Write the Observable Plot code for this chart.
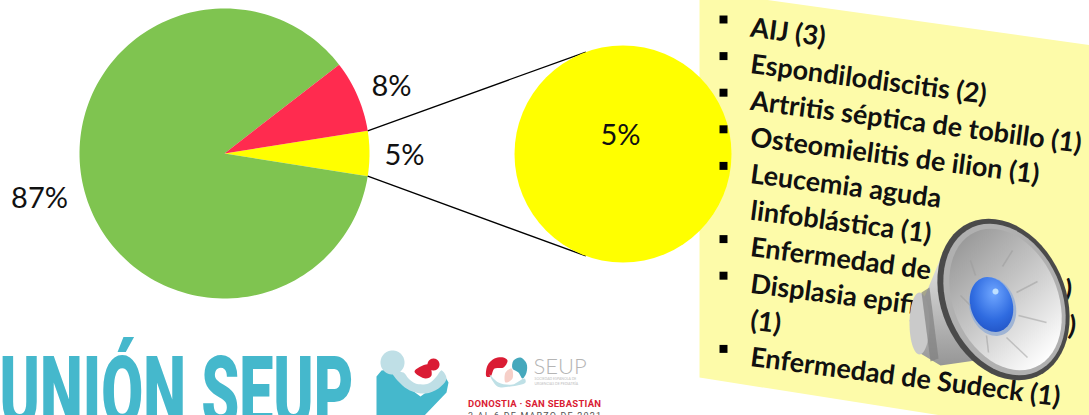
<!DOCTYPE html>
<html><head><meta charset="utf-8">
<style>html,body{margin:0;padding:0;background:#fff;overflow:hidden}svg{display:block}</style>
<script src="https://cdn.jsdelivr.net/npm/d3@7"></script>
<script src="https://cdn.jsdelivr.net/npm/@observablehq/plot@0.6"></script>
</head><body><script>
// ---- data ----
const sliceValues = [5, 87, 8];
const sliceColors = ["#FFFF00", "#7FC450", "#FF2B4F"];
const detailValue = [5];
const listLines = ["AIJ (3)", "Espondilodiscitis (2)", "Artritis séptica de tobillo (1)", "Osteomielitis de ilion (1)", "Leucemia aguda", "linfoblástica (1)", "Enfermedad de", "Displasia epifi", "(1)", "Enfermedad de Sudeck (1)"];
const listBullets = [1, 1, 1, 1, 1, 0, 1, 1, 0, 1];

// ---- layout ----
const W = 1089, H = 415;
const pie = {x: 224, y: 153, r: 145};
const zoomC = {x: 622.5, y: 153.5, r: 108.5};
const rad = Math.PI / 180;
const total = d3.sum(sliceValues);
let a0 = -sliceValues[0] / total * 180;
const slicePts = sliceValues.flatMap((v, i) => {
  const a1 = a0 + v / total * 360;
  const n = Math.ceil((a1 - a0) / 2);
  const arc = d3.range(n + 1).map(k => a0 + (a1 - a0) * k / n);
  a0 = a1;
  return [{a: null}, ...arc.map(a => ({a}))].map(p => ({
    i,
    x: p.a === null ? pie.x : pie.x + pie.r * Math.cos(p.a * rad),
    y: p.a === null ? pie.y : pie.y + pie.r * Math.sin(p.a * rad)
  }));
});
const half = sliceValues[0] / total * 180;
const connectorAngle = 110;
const connectors = [-1, 1].map(s => ({
  x1: pie.x + pie.r * Math.cos(half * rad), y1: pie.y + s * pie.r * Math.sin(half * rad),
  x2: zoomC.x + zoomC.r * Math.cos(connectorAngle * rad), y2: zoomC.y + s * zoomC.r * Math.sin(connectorAngle * rad)
}));
const listStart = {x: 749, y: 36, step: 36.6, bulletX: 723, bulletDy: -17, rot: 7.4};
const rows = listLines.map((t, i) => ({t, b: listBullets[i], x: listStart.x, y: listStart.y + i * listStart.step}));

// ---- decoration helpers ----
const poly = (pts, fill, curve = "linear", extra = {}) =>
  Plot.line(pts, {x: d => d[0], y: d => d[1], fill, stroke: "none", curve, ...extra});
const ellipse = (cx, cy, a, b, deg, fill, extra = {}) => {
  const t = deg * rad;
  const pts = d3.range(0, 360, 6).map(u => {
    const c = a * Math.cos(u * rad), s = b * Math.sin(u * rad);
    return [cx + c * Math.cos(t) - s * Math.sin(t), cy + c * Math.sin(t) + s * Math.cos(t)];
  });
  return poly(pts, fill, "linear-closed", extra);
};
const defs = () => d3.create("svg:defs").html(`
  <linearGradient id="coneG" x1="0.15" y1="0.05" x2="0.85" y2="0.95">
    <stop offset="0" stop-color="#9a9a9a"/><stop offset="0.55" stop-color="#cfcfcf"/><stop offset="1" stop-color="#ffffff"/>
  </linearGradient>
  <linearGradient id="backG" x1="0.5" y1="0" x2="0.5" y2="1">
    <stop offset="0" stop-color="#e0e0e0"/><stop offset="0.5" stop-color="#bcbcbc"/><stop offset="1" stop-color="#969696"/>
  </linearGradient>
  <radialGradient id="blueG" cx="0.55" cy="0.3" r="0.8">
    <stop offset="0" stop-color="#6fa6ff"/><stop offset="0.6" stop-color="#2f6be0"/><stop offset="1" stop-color="#1f4fc0"/>
  </radialGradient>`).node();

const speaker = [
  poly([[940,258],[925,294],[909,320],[920,353],[940,365],[975,360]], "url(#backG)"),
  ellipse(919, 323, 10, 31, 0, "#cacaca"),
  poly([[921,292],[929,287],[938,358],[930,361]], "#808080", "linear-closed", {fillOpacity: 0.7}),
  ellipse(1003, 299, 84, 62, 66, "#4a4a4a"),
  ellipse(1004, 299, 79, 57, 66, "#b0b0b0"),
  ellipse(1005, 299, 74, 52, 66, "url(#coneG)"),
  ellipse(992, 306, 30, 23, 72, "#9fb4d4"),
  ellipse(991, 304, 28, 21, 72, "url(#blueG)"),
  ellipse(995, 291, 3, 3, 0, "#bfe0ff"),
  Plot.link([[1002,266,1012,250],[1016,292,1037,281],[1018,315,1046,322],[1006,337,1027,357],[986,335,988,352],[970,305,960,295],[975,275,970,260]],
    {x1: d => d[0], y1: d => d[1], x2: d => d[2], y2: d => d[3], stroke: "#9a9a9a", strokeWidth: 1.5, strokeOpacity: 0.5})
];
const teal = "#45B8CC", redLogo = "#DA1C34";
const logo = [
  Plot.text(["UNIÓN SEUP"], {className: "logo-main", x: -1, y: 425, text: d => d, textAnchor: "start", lineAnchor: "bottom", fill: teal,
    fontFamily: "Roboto", fontWeight: 900, fontSize: 98}),
  poly([[376,416],[376,376],[381,370],[395,368],[405,385],[420,396],[435,385],[441,370],[448,382],[446,392],[423,416]], teal, "linear"),
  poly([[392,372],[403,372],[408,378],[415,383],[428,383],[436,376],[441,370],[446,378],[438,388],[425,393],[412,391],[402,385]], "#BFDFE6", "catmull-rom-closed"),
  ellipse(392, 362, 12, 12, 0, "#BFDFE6"),
  ellipse(433, 364, 6, 6, 0, redLogo),
  poly([[414,371],[428,364],[431,375],[425,378]], redLogo, "catmull-rom-closed"),
  poly([[486,376],[487,365],[494,358],[503,357],[507,360],[503,367],[494,368],[490,376]], redLogo, "catmull-rom-closed"),
  poly([[512,368],[513,360],[520,357],[526,363],[526,372],[522,378],[518,372]], "#45A8BC", "catmull-rom-closed"),
  poly([[489,374],[498,382],[512,384],[524,378],[525,382],[510,386],[497,386]], "#BFE0E6", "catmull-rom-closed"),
  poly([[505,372],[511,368],[512,378],[505,382]], "#F6CFC8", "catmull-rom-closed"),
  Plot.text(["SEUP"], {x: 533, y: 373, text: d => d, textAnchor: "start", lineAnchor: "bottom", fill: "#b5b5b5", fontFamily: "Lato", fontWeight: 300, fontSize: 22}),
  Plot.text(["SOCIEDAD ESPAÑOLA DE", "URGENCIAS DE PEDIATRÍA"], {x: 534, y: (d, i) => 379.5 + i * 4.5, text: d => d, textAnchor: "start", lineAnchor: "bottom", fill: "#c0c0c0", fontFamily: "Lato", fontSize: 3.5}),
  Plot.text(["DONOSTIA · SAN SEBASTIÁN"], {className: "logo-city", x: 467.5, y: 406, text: d => d, textAnchor: "start", lineAnchor: "bottom", fill: redLogo, fontFamily: "Roboto", fontWeight: 700, fontSize: 9.5}),
  Plot.text(["3 AL 6 DE MARZO DE 2021"], {className: "logo-date", x: 467.5, y: 418, text: d => d, textAnchor: "start", lineAnchor: "bottom", fill: "#555", fontFamily: "Roboto", fontSize: 9})
];

const plot = Plot.plot({
  width: W, height: H, margin: 0,
  x: {type: "linear", domain: [0, W], range: [0, W], axis: null},
  y: {type: "linear", domain: [0, H], range: [0, H], axis: null},
  style: {background: "#fff"},
  marks: [
    defs,
    poly([[699, -10], [1100, 46], [1100, 440], [699, 377]], "#FDFBA9", "linear-closed"),
    Plot.line(slicePts, {x: "x", y: "y", z: "i", fill: d => sliceColors[d.i], stroke: "none", curve: "linear-closed"}),
    Plot.link(connectors, {x1: "x1", y1: "y1", x2: "x2", y2: "y2", stroke: "#000", strokeWidth: 1.3}),
    Plot.dot(detailValue, {x: zoomC.x, y: zoomC.y, r: zoomC.r, fill: sliceColors[0], stroke: "none"}),
    Plot.text(sliceValues, {
      x: [404, 39, 391], y: [155, 198, 86], text: d => d + "%",
      fontFamily: "Lato", fontSize: 29, fill: "#111"
    }),
    Plot.text(detailValue, {x: 620, y: 135, text: d => d + "%", fontFamily: "Lato", fontSize: 29, fill: "#111"}),
    Plot.dot(rows.filter(d => d.b), {x: listStart.bulletX, y: d => d.y + listStart.bulletDy, symbol: "square", r: 4.5, fill: "#000", stroke: "none"}),
    Plot.text(rows, {x: "x", y: "y", text: "t", rotate: listStart.rot, textAnchor: "start", lineAnchor: "bottom",
      fontFamily: "Lato", fontWeight: 700, fontSize: 27, fill: "#111"}),
    Plot.text([")", ")"], {x: [1063, 1067], y: [298, 334], text: d => d, rotate: listStart.rot, textAnchor: "start", lineAnchor: "bottom", fontFamily: "Lato", fontWeight: 700, fontSize: 27, fill: "#111"}),
    ...speaker,
    ...logo
  ]
});
document.body.append(plot);
const fit = (cls, len, adjust) => d3.select(plot).selectAll("." + cls + " text").attr("textLength", len).attr("lengthAdjust", adjust);
fit("logo-main", 354, "spacingAndGlyphs");
fit("logo-city", 133, "spacing");
fit("logo-date", 133, "spacing");
</script></body></html>
